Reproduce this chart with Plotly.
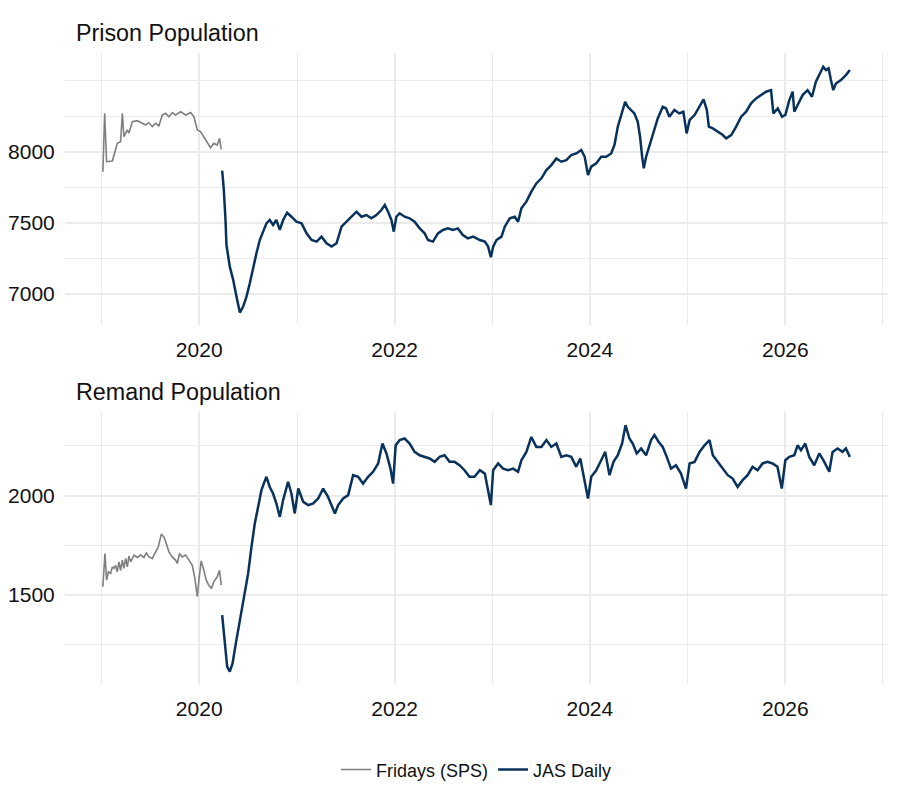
import pandas as pd
import plotly.graph_objects as go
from plotly.subplots import make_subplots

# time in decimal years
sps_prison_t = [2019.013, 2019.031, 2019.051, 2019.110, 2019.160, 2019.194, 2019.212, 2019.228,
                2019.263, 2019.279, 2019.314, 2019.365, 2019.417, 2019.450, 2019.484, 2019.519,
                2019.553, 2019.586, 2019.621, 2019.655, 2019.689, 2019.724, 2019.757, 2019.809,
                2019.860, 2019.911, 2019.945, 2019.980, 2020.013, 2020.047, 2020.082, 2020.116,
                2020.149, 2020.184, 2020.208, 2020.225]
sps_prison = [7859, 8270, 7930, 7935, 8059, 8070, 8270, 8106, 8153, 8130, 8211, 8218, 8200, 8188,
              8204, 8176, 8200, 8181, 8258, 8270, 8246, 8275, 8258, 8282, 8258, 8275, 8246, 8153,
              8141, 8106, 8070, 8028, 8059, 8047, 8094, 8017]

sps_remand_t = [2019.013, 2019.034, 2019.051, 2019.069, 2019.092, 2019.110, 2019.126, 2019.143,
                2019.160, 2019.177, 2019.194, 2019.212, 2019.228, 2019.246, 2019.263, 2019.279,
                2019.297, 2019.331, 2019.365, 2019.399, 2019.433, 2019.458, 2019.484, 2019.519,
                2019.553, 2019.580, 2019.611, 2019.638, 2019.662, 2019.689, 2019.724, 2019.757,
                2019.775, 2019.798, 2019.826, 2019.860, 2019.894, 2019.928, 2019.952, 2019.980,
                2019.996, 2020.020, 2020.047, 2020.072, 2020.098, 2020.126, 2020.149, 2020.184,
                2020.208, 2020.225]
sps_remand = [1542, 1709, 1575, 1617, 1609, 1642, 1634, 1650, 1617, 1667, 1625, 1676, 1634, 1684,
              1642, 1696, 1667, 1701, 1689, 1701, 1689, 1712, 1692, 1684, 1717, 1742, 1806, 1792,
              1759, 1717, 1692, 1676, 1659, 1709, 1692, 1701, 1676, 1650, 1592, 1492, 1575, 1672,
              1625, 1575, 1550, 1534, 1567, 1592, 1625, 1550]

jas_prison_t = [2020.235, 2020.252, 2020.269, 2020.279, 2020.313, 2020.348, 2020.382, 2020.416,
                2020.450, 2020.484, 2020.518, 2020.552, 2020.586, 2020.620, 2020.654, 2020.688,
                2020.722, 2020.756, 2020.790, 2020.825, 2020.859, 2020.900, 2020.944, 2020.995,
                2021.046, 2021.097, 2021.148, 2021.200, 2021.250, 2021.302, 2021.353, 2021.404,
                2021.455, 2021.506, 2021.557, 2021.608, 2021.659, 2021.710, 2021.761, 2021.812,
                2021.863, 2021.898, 2021.932, 2021.966, 2021.990, 2022.017, 2022.051, 2022.102,
                2022.153, 2022.204, 2022.256, 2022.307, 2022.341, 2022.392, 2022.443, 2022.494,
                2022.545, 2022.596, 2022.647, 2022.698, 2022.749, 2022.804, 2022.872, 2022.923,
                2022.957, 2022.985, 2023.009, 2023.043, 2023.094, 2023.128, 2023.179, 2023.230,
                2023.264, 2023.298, 2023.349, 2023.400, 2023.451, 2023.503, 2023.554, 2023.605,
                2023.656, 2023.707, 2023.758, 2023.809, 2023.860, 2023.911, 2023.946, 2023.980,
                2024.014, 2024.065, 2024.116, 2024.167, 2024.218, 2024.252, 2024.286, 2024.320,
                2024.361, 2024.388, 2024.422, 2024.456, 2024.490, 2024.514, 2024.535, 2024.552,
                2024.576, 2024.610, 2024.644, 2024.695, 2024.746, 2024.780, 2024.814, 2024.865,
                2024.916, 2024.957, 2024.991, 2025.019, 2025.070, 2025.121, 2025.162, 2025.196,
                2025.216, 2025.257, 2025.308, 2025.359, 2025.394, 2025.445, 2025.496, 2025.547,
                2025.598, 2025.649, 2025.700, 2025.751, 2025.802, 2025.853, 2025.877, 2025.922,
                2025.966, 2026.000, 2026.041, 2026.075, 2026.092, 2026.126, 2026.177, 2026.228,
                2026.273, 2026.313, 2026.348, 2026.388, 2026.416, 2026.443, 2026.467, 2026.491,
                2026.518, 2026.569, 2026.620, 2026.661]
jas_prison = [7867, 7731, 7520, 7344, 7192, 7098, 6981, 6869, 6911, 6981, 7075, 7192, 7286, 7379,
              7438, 7496, 7520, 7485, 7520, 7450, 7520, 7571, 7543, 7508, 7496, 7426, 7379, 7368,
              7403, 7356, 7333, 7356, 7473, 7508, 7543, 7578, 7543, 7555, 7532, 7555, 7590, 7625,
              7578, 7520, 7438, 7543, 7567, 7543, 7532, 7508, 7461, 7426, 7379, 7368, 7426, 7450,
              7461, 7450, 7461, 7414, 7391, 7403, 7379, 7368, 7333, 7258, 7333, 7379, 7403, 7473,
              7532, 7543, 7508, 7602, 7649, 7719, 7777, 7813, 7871, 7906, 7953, 7930, 7941, 7977,
              7988, 8012, 7965, 7836, 7895, 7918, 7965, 7965, 7988, 8047, 8176, 8258, 8351, 8316,
              8293, 8269, 8211, 8105, 7965, 7883, 7965, 8047, 8129, 8234, 8316, 8304, 8246, 8293,
              8269, 8281, 8129, 8222, 8258, 8316, 8368, 8293, 8176, 8164, 8141, 8117, 8094, 8117,
              8176, 8246, 8281, 8340, 8375, 8398, 8422, 8433, 8269, 8304, 8246, 8258, 8363, 8422,
              8281, 8328, 8398, 8433, 8386, 8492, 8539, 8597, 8574, 8586, 8504, 8433, 8480, 8504,
              8539, 8574]

jas_remand_t = [2020.235, 2020.262, 2020.286, 2020.313, 2020.341, 2020.375, 2020.416, 2020.467,
                2020.501, 2020.535, 2020.569, 2020.603, 2020.637, 2020.661, 2020.688, 2020.722,
                2020.756, 2020.790, 2020.825, 2020.859, 2020.910, 2020.944, 2020.978, 2021.012,
                2021.063, 2021.114, 2021.165, 2021.216, 2021.267, 2021.317, 2021.351, 2021.387,
                2021.421, 2021.472, 2021.523, 2021.574, 2021.625, 2021.676, 2021.727, 2021.778,
                2021.830, 2021.874, 2021.915, 2021.956, 2021.983, 2022.010, 2022.051, 2022.102,
                2022.153, 2022.204, 2022.256, 2022.307, 2022.358, 2022.409, 2022.460, 2022.511,
                2022.562, 2022.613, 2022.664, 2022.715, 2022.766, 2022.817, 2022.872, 2022.923,
                2022.957, 2022.985, 2023.009, 2023.060, 2023.111, 2023.162, 2023.213, 2023.264,
                2023.298, 2023.349, 2023.400, 2023.451, 2023.503, 2023.554, 2023.605, 2023.656,
                2023.707, 2023.758, 2023.809, 2023.860, 2023.901, 2023.946, 2023.980, 2024.014,
                2024.065, 2024.116, 2024.157, 2024.201, 2024.242, 2024.286, 2024.330, 2024.365,
                2024.405, 2024.439, 2024.480, 2024.525, 2024.576, 2024.627, 2024.661, 2024.705,
                2024.746, 2024.787, 2024.831, 2024.882, 2024.933, 2024.984, 2025.019, 2025.070,
                2025.121, 2025.172, 2025.223, 2025.257, 2025.308, 2025.359, 2025.410, 2025.460,
                2025.511, 2025.562, 2025.613, 2025.664, 2025.715, 2025.766, 2025.817, 2025.868,
                2025.919, 2025.963, 2026.000, 2026.041, 2026.092, 2026.126, 2026.160, 2026.204,
                2026.245, 2026.296, 2026.348, 2026.399, 2026.450, 2026.484, 2026.535, 2026.586,
                2026.620, 2026.661]
jas_remand = [1400, 1274, 1141, 1116, 1157, 1258, 1375, 1508, 1609, 1742, 1860, 1943, 2027, 2060,
              2094, 2043, 2010, 1960, 1893, 1977, 2069, 2010, 1910, 2035, 1968, 1952, 1960, 1985,
              2035, 1993, 1952, 1910, 1952, 1985, 2002, 2102, 2094, 2060, 2094, 2119, 2161, 2261,
              2211, 2135, 2060, 2252, 2278, 2286, 2261, 2219, 2202, 2194, 2186, 2169, 2194, 2202,
              2169, 2169, 2152, 2127, 2094, 2094, 2127, 2110, 2027, 1952, 2127, 2161, 2135, 2127,
              2135, 2119, 2177, 2219, 2294, 2244, 2244, 2278, 2244, 2261, 2194, 2202, 2194, 2144,
              2186, 2077, 1985, 2094, 2127, 2177, 2219, 2102, 2169, 2202, 2261, 2353, 2286, 2261,
              2211, 2236, 2202, 2278, 2303, 2269, 2244, 2194, 2135, 2152, 2110, 2035, 2161, 2169,
              2219, 2252, 2278, 2202, 2169, 2135, 2102, 2085, 2043, 2077, 2102, 2144, 2127, 2161,
              2169, 2161, 2144, 2035, 2177, 2194, 2202, 2252, 2227, 2261, 2194, 2152, 2211, 2169,
              2119, 2219, 2236, 2219, 2236, 2194]

panel_titles = ["Prison Population", "Remand Population"]
series_names = ["Fridays (SPS)", "JAS Daily"]


def to_date(years):
    out = []
    for y in years:
        yr = int(y)
        out.append(pd.Timestamp(yr, 1, 1) + pd.Timedelta(days=(y - yr) * 365.25))
    return out


GREY = "#7f7f7f"
NAVY = "#08325c"
GRID = "#ebebeb"
TEXT = "#111111"

fig = make_subplots(rows=2, cols=1, vertical_spacing=0.138)

fig.add_trace(go.Scatter(x=to_date(sps_prison_t), y=sps_prison, mode="lines", name=series_names[0],
                         line=dict(color=GREY, width=1.6), legendgroup="sps"), row=1, col=1)
fig.add_trace(go.Scatter(x=to_date(jas_prison_t), y=jas_prison, mode="lines", name=series_names[1],
                         line=dict(color=NAVY, width=2.5), legendgroup="jas"), row=1, col=1)
fig.add_trace(go.Scatter(x=to_date(sps_remand_t), y=sps_remand, mode="lines", name=series_names[0],
                         line=dict(color=GREY, width=1.6), legendgroup="sps", showlegend=False), row=2, col=1)
fig.add_trace(go.Scatter(x=to_date(jas_remand_t), y=jas_remand, mode="lines", name=series_names[1],
                         line=dict(color=NAVY, width=2.5), legendgroup="jas", showlegend=False), row=2, col=1)

fig.update_xaxes(
    type="date", range=["2018-08-17", "2027-01-20"],
    tickmode="linear", tick0="2020-01-01", dtick="M24", tickformat="%Y",
    showgrid=True, gridcolor=GRID, gridwidth=1.6,
    minor=dict(tickmode="linear", tick0="2019-01-01", dtick="M12", showgrid=True,
               gridcolor=GRID, gridwidth=0.8),
    ticks="outside", ticklen=6, tickcolor="rgba(0,0,0,0)",
    zeroline=False, showline=False, automargin=False,
    tickfont=dict(size=21, color=TEXT),
)

fig.update_yaxes(row=1, col=1, range=[6782, 8694], tickvals=[7000, 7500, 8000],
                 minor=dict(tickvals=[7250, 7750, 8250, 8500], showgrid=True, gridcolor=GRID, gridwidth=0.8))
fig.update_yaxes(row=2, col=1, range=[1054, 2419], tickvals=[1500, 2000],
                 minor=dict(tickvals=[1250, 1750, 2250], showgrid=True, gridcolor=GRID, gridwidth=0.8))
fig.update_yaxes(showgrid=True, gridcolor=GRID, gridwidth=1.6, zeroline=False, showline=False,
                 ticks="outside", ticklen=5, tickcolor="rgba(0,0,0,0)", automargin=False,
                 tickfont=dict(size=21, color=TEXT))

fig.add_annotation(text=panel_titles[0], xref="paper", yref="paper", x=0.011, y=1.032,
                   xanchor="left", yanchor="middle", showarrow=False,
                   font=dict(size=23.3, color=TEXT))
fig.add_annotation(text=panel_titles[1], xref="paper", yref="paper", x=0.011, y=0.4628,
                   xanchor="left", yanchor="middle", showarrow=False,
                   font=dict(size=23.3, color=TEXT))

# the page body adds an 8px offset, so the margins are shifted by that amount
fig.update_layout(
    width=900, height=810,
    margin=dict(l=57, r=20, t=45, b=134),
    plot_bgcolor="white", paper_bgcolor="white",
    font=dict(family="Liberation Sans, Arial, sans-serif", color=TEXT),
    legend=dict(orientation="h", x=0.5, xanchor="center", y=-0.136, yanchor="middle",
                font=dict(size=18), itemwidth=30),
    showlegend=True,
)

fig.write_html("out.html")
